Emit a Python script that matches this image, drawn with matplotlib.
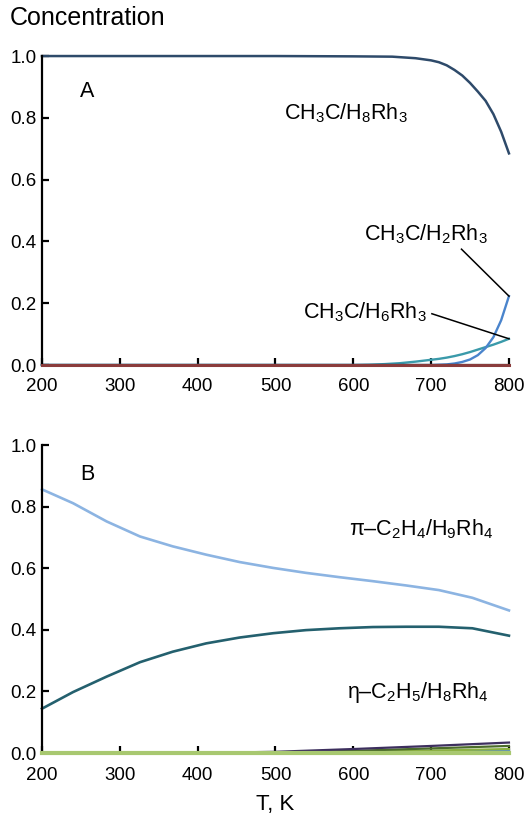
import matplotlib
matplotlib.use("Agg")
import matplotlib.pyplot as plt

plt.rcParams['font.family'] = ['Liberation Sans', 'DejaVu Sans']
plt.rcParams['mathtext.fontset'] = 'custom'
plt.rcParams['mathtext.rm'] = 'Liberation Sans'
plt.rcParams['mathtext.it'] = 'Liberation Sans'

# ---- Panel A data ----
T_a = [200, 300, 400, 500, 600, 650, 680, 700, 710, 720, 730, 740, 750, 760, 770, 780, 790, 800]
h8rh3 = [1.0, 1.0, 1.0, 1.0, 0.999, 0.998, 0.993, 0.986, 0.980, 0.970, 0.955, 0.937, 0.913, 0.885, 0.855, 0.812, 0.755, 0.685]
T_a2 = [200, 600, 700, 710, 720, 730, 740, 750, 760, 770, 780, 790, 800]
h2rh3 = [0.0, 0.0, 0.0, 0.001, 0.002, 0.005, 0.010, 0.018, 0.032, 0.055, 0.09, 0.145, 0.223]
h6rh3 = [0.0, 0.0, 0.017, 0.020, 0.024, 0.029, 0.035, 0.042, 0.050, 0.058, 0.066, 0.075, 0.085]
T_a3 = [200, 600, 620, 640, 660, 680, 700]
h6rh3_low = [0.0, 0.0, 0.001, 0.003, 0.006, 0.011, 0.017]
other_a = [0.0, 0.0]
T_a4 = [200, 800]

# ---- Panel B data ----
T_b = [200, 240, 283, 326, 368, 411, 454, 497, 539, 582, 625, 668, 710, 753, 800]
pi_c2h4 = [0.856, 0.811, 0.752, 0.703, 0.671, 0.644, 0.620, 0.601, 0.585, 0.571, 0.558, 0.544, 0.529, 0.504, 0.463]
eta_c2h5 = [0.144, 0.198, 0.248, 0.295, 0.329, 0.356, 0.375, 0.389, 0.399, 0.405, 0.409, 0.410, 0.410, 0.405, 0.381]
T_bm = [200, 400, 500, 600, 700, 800]
minor1 = [0.0, 0.0, 0.004, 0.013, 0.023, 0.034]
minor2 = [0.0, 0.0, 0.002, 0.007, 0.015, 0.023]
minor3 = [0.0, 0.0, 0.001, 0.004, 0.008, 0.013]
minor4 = [0.0, 0.0, 0.0, 0.002, 0.005, 0.009]
base_b = [0.0, 0.0, 0.0, 0.0, 0.0, 0.0]

xticks = [200, 300, 400, 500, 600, 700, 800]
yticks = [0.0, 0.2, 0.4, 0.6, 0.8, 1.0]

fig = plt.figure(figsize=(5.26, 8.17), dpi=100)
axA = fig.add_axes([0.0798, 0.5532, 0.8878, 0.3782])
axB = fig.add_axes([0.0798, 0.0783, 0.8878, 0.3770])

def style(ax, xpad):
    ax.set_xlim(200, 800)
    ax.set_ylim(0, 1.0)
    ax.set_xticks(xticks)
    ax.set_yticks(yticks)
    ax.set_yticklabels([f"{v:.1f}" for v in yticks])
    for s in ['top', 'right']:
        ax.spines[s].set_visible(False)
    ax.spines['left'].set_linewidth(1.6)
    ax.spines['bottom'].set_linewidth(1.6)
    ax.tick_params(direction='in', length=5, width=1.6, labelsize=13.5)
    ax.tick_params(axis='x', pad=xpad)
    ax.tick_params(axis='y', pad=4)

style(axA, 9)
style(axB, 10)

# Panel A
axA.plot(T_a, h8rh3, color='#2e4a6a', lw=1.8, clip_on=False)
axA.plot(T_a3, h6rh3_low, color='#3a9aaa', lw=1.7, clip_on=False)
axA.plot(T_a2[2:], h6rh3[2:], color='#3a9aaa', lw=1.7, clip_on=False)
axA.plot(T_a2, h2rh3, color='#4a84cc', lw=1.7, clip_on=False)
axA.plot(T_a4, other_a, color='#8a3c3c', lw=2.2, clip_on=False, zorder=3)

axA.text(258, 0.885, 'A', fontsize=15.5, ha='center', va='center')
axA.text(590, 0.815, r'CH$_3$C/H$_8$Rh$_3$', fontsize=15.5, ha='center', va='center')
axA.text(693, 0.424, r'CH$_3$C/H$_2$Rh$_3$', fontsize=15.5, ha='center', va='center')
axA.text(615, 0.172, r'CH$_3$C/H$_6$Rh$_3$', fontsize=15.5, ha='center', va='center')
axA.plot([739, 800], [0.375, 0.223], color='black', lw=1.1, clip_on=False)
axA.plot([701, 800], [0.166, 0.085], color='black', lw=1.1, clip_on=False)

fig.text(0.019, 0.978, 'Concentration', fontsize=18, ha='left', va='center')

# Panel B
axB.plot(T_b, pi_c2h4, color='#8cb4e2', lw=1.9, clip_on=False)
axB.plot(T_b, eta_c2h5, color='#24606e', lw=1.9, clip_on=False)
axB.plot(T_bm, base_b, color='#a8c870', lw=3.0, clip_on=False, zorder=3)
axB.plot(T_bm, minor4, color='#5a8cd0', lw=1.6, clip_on=False)
axB.plot(T_bm, minor3, color='#8ab040', lw=1.6, clip_on=False)
axB.plot(T_bm, minor2, color='#4b6b2a', lw=1.6, clip_on=False)
axB.plot(T_bm, minor1, color='#3d2f5e', lw=1.6, clip_on=False)

axB.text(258, 0.905, 'B', fontsize=15.5, ha='center', va='center')
axB.text(687, 0.727, 'π–C$_2$H$_4$/H$_9$Rh$_4$', fontsize=15.5, ha='center', va='center')
axB.text(683, 0.197, 'η–C$_2$H$_5$/H$_8$Rh$_4$', fontsize=15.5, ha='center', va='center')

axB.set_xlabel('T, K', fontsize=16, labelpad=7)

fig.savefig('out.png', dpi=100)
